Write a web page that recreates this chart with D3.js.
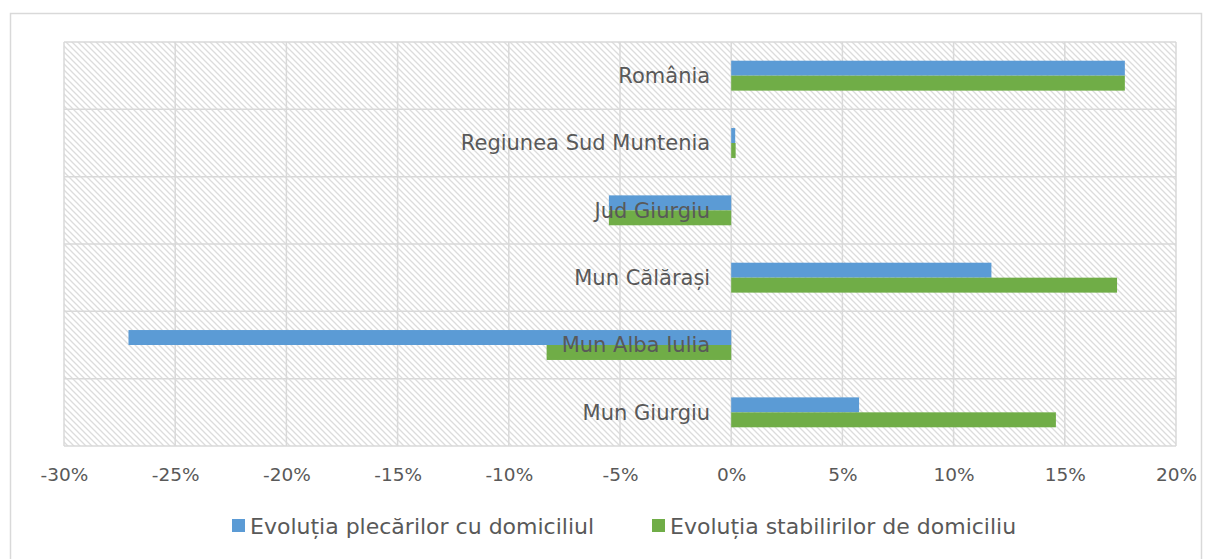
<!DOCTYPE html>
<html><head><meta charset="utf-8">
<script src="https://cdn.jsdelivr.net/npm/d3@7"></script>
<style>body{margin:0;background:#fff}svg{display:block}text{font-family:"DejaVu Sans",sans-serif;fill:#595959}</style>
</head><body><svg id="c" width="1212" height="559"></svg>
<script>
const categories = ["România","Regiunea Sud Muntenia","Jud Giurgiu","Mun Călărași","Mun Alba Iulia","Mun Giurgiu"];
const seriesNames = ["Evoluția plecărilor cu domiciliul","Evoluția stabilirilor de domiciliu"];
const plecari = [17.7, 0.18, -5.5, 11.7, -27.1, 5.75];
const stabiliri = [17.7, 0.2, -5.5, 17.35, -8.3, 14.6];
const tickValues = [-30,-25,-20,-15,-10,-5,0,5,10,15,20];
const colors = ["#5b9bd5","#70ad47"];

const svg = d3.select("#c");
const m={left:64,right:1176,top:42,bottom:446};
svg.append("rect").attr("x",10.5).attr("y",13.5).attr("width",1191).attr("height",560).attr("fill","#fff").attr("stroke","#d9d9d9").attr("stroke-width",1.5);

const defs=svg.append("defs");
const pat=defs.append("pattern").attr("id","hatch").attr("patternUnits","userSpaceOnUse").attr("width",6).attr("height",6);
pat.append("rect").attr("width",6).attr("height",6).attr("fill","#fff");
pat.append("path").attr("d","M-1,-1 L7,7 M-1,5 L1,7 M5,-1 L7,1").attr("stroke","#dcdcdc").attr("stroke-width",1.3);

const x=d3.scaleLinear().domain([-30,20]).range([m.left,m.right]);
const y=d3.scaleBand().domain(categories).range([m.top,m.bottom]);
const yi=d3.scaleBand().domain([0,1]).range([0,y.bandwidth()]).paddingOuter(1.25);

svg.append("rect").attr("x",m.left).attr("y",m.top).attr("width",m.right-m.left).attr("height",m.bottom-m.top).attr("fill","url(#hatch)");

svg.append("g").selectAll("line").data(tickValues).join("line")
  .attr("x1",d=>x(d)).attr("x2",d=>x(d)).attr("y1",m.top).attr("y2",m.bottom)
  .attr("stroke","#d9d9d9").attr("stroke-width",1.5);
const hb=categories.map(c=>y(c)).concat([m.bottom]);
svg.append("g").selectAll("line").data(hb).join("line")
  .attr("x1",m.left).attr("x2",m.right).attr("y1",d=>d).attr("y2",d=>d)
  .attr("stroke","#d9d9d9").attr("stroke-width",1.5);

const data=[plecari,stabiliri];
data.forEach((vals,si)=>{
  svg.append("g").selectAll("rect").data(vals).join("rect")
    .attr("x",d=>x(Math.min(0,d))).attr("width",d=>Math.abs(x(d)-x(0)))
    .attr("y",(d,i)=>y(categories[i])+yi(si)).attr("height",yi.bandwidth())
    .attr("fill",colors[si]);
});

svg.append("g").selectAll("text").data(categories).join("text")
  .attr("x",x(0)-21).attr("y",d=>y(d)+y.bandwidth()/2).attr("dy","0.35em")
  .attr("text-anchor","end").attr("font-size",21).text(d=>d);

const ax=svg.append("g").attr("transform",`translate(0,${m.bottom})`)
  .call(d3.axisBottom(x).tickValues(tickValues).tickSize(0).tickPadding(22).tickFormat(d=>d+"%"));
ax.select(".domain").remove();
ax.selectAll("text").attr("font-size",18.5).attr("fill","#595959").style("font-family","DejaVu Sans");

const leg=svg.append("g");
const lx=[232,652];
seriesNames.forEach((n,i)=>{
  leg.append("rect").attr("x",lx[i]).attr("y",519).attr("width",13).attr("height",13).attr("fill",colors[i]);
  leg.append("text").attr("x",lx[i]+18).attr("y",526).attr("dy","0.35em").attr("font-size",22).text(n);
});
</script></body></html>
